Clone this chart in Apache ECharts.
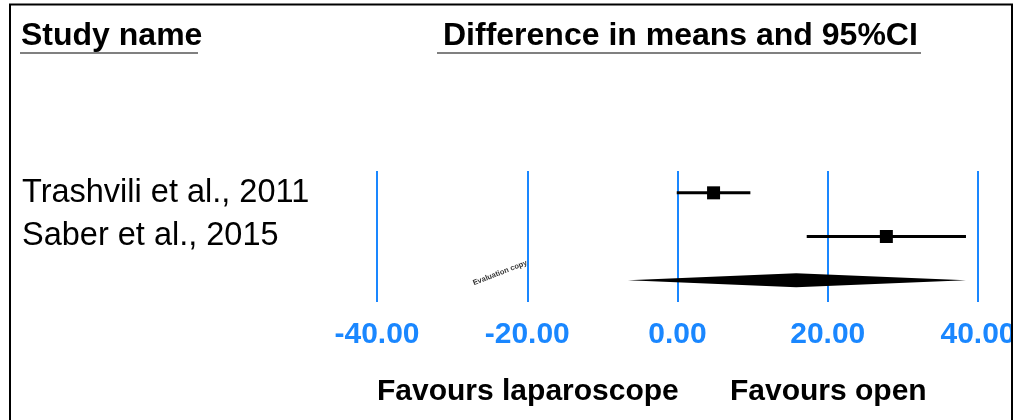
<!DOCTYPE html>
<html>
<head>
<meta charset="utf-8">
<script src="https://cdn.jsdelivr.net/npm/echarts@6/dist/echarts.min.js"></script>
<style>
html,body{margin:0;padding:0;background:#fff;}
#chart{width:1015px;height:420px;}
</style>
</head>
<body>
<div id="chart"></div>
<script>
// ---- data ----
const studies = ['Trashvili et al., 2011', 'Saber et al., 2015'];
const means = [4.8, 27.8];
const lowerCI = [-0.1, 17.2];
const upperCI = [9.7, 38.4];
const summaryCI = [-6.6, 15.8, 38.4]; // lower, point, upper
const xTicks = [-40, -20, 0, 20, 40];
const headerLeft = 'Study name';
const headerRight = 'Difference in means and 95%CI';
const favourLeft = 'Favours laparoscope';
const favourRight = 'Favours open';

const FONT = '"Liberation Sans", Arial, Helvetica, sans-serif';
const BLUE = '#1a87ff';

const rows = studies.concat(['']);
const studyData = studies.map((s, i) => [lowerCI[i], means[i], upperCI[i], i]);
const summaryData = [[summaryCI[0], summaryCI[1], summaryCI[2], studies.length]];

const chart = echarts.init(document.getElementById('chart'), null, {renderer: 'canvas'});

const option = {
  animation: false,
  backgroundColor: '#fff',
  grid: {left: 377, right: 37, top: 171, bottom: 118, outerBoundsMode: 'none', containLabel: false},
  xAxis: {
    type: 'value',
    min: xTicks[0],
    max: xTicks[xTicks.length - 1],
    interval: xTicks[1] - xTicks[0],
    axisLine: {show: false},
    axisTick: {show: false},
    splitLine: {show: true, lineStyle: {color: BLUE, width: 2}},
    axisLabel: {
      margin: 18,
      color: BLUE,
      fontFamily: FONT,
      fontWeight: 'bold',
      fontSize: 30,
      formatter: v => v.toFixed(2)
    }
  },
  yAxis: {
    type: 'category',
    inverse: true,
    data: rows,
    axisLine: {show: false},
    axisTick: {show: false},
    splitLine: {show: false},
    axisLabel: {
      align: 'left',
      margin: 355,
      color: '#000',
      fontFamily: FONT,
      fontSize: 32.5
    }
  },
  series: [
    {
      type: 'custom',
      data: studyData,
      encode: {x: [0, 1, 2], y: 3},
      renderItem: function (params, api) {
        const row = api.value(3);
        const lo = api.coord([api.value(0), row]);
        const mid = api.coord([api.value(1), row]);
        const hi = api.coord([api.value(2), row]);
        const s = 13;
        return {
          type: 'group',
          children: [
            {type: 'line', shape: {x1: lo[0], y1: lo[1], x2: hi[0], y2: hi[1]},
             style: {stroke: '#000', lineWidth: 3}},
            {type: 'rect', shape: {x: mid[0] - s / 2, y: mid[1] - s / 2, width: s, height: s},
             style: {fill: '#000'}}
          ]
        };
      },
      z: 5
    },
    {
      type: 'custom',
      data: summaryData,
      encode: {x: [0, 1, 2], y: 3},
      renderItem: function (params, api) {
        const row = api.value(3);
        const lo = api.coord([api.value(0), row]);
        const mid = api.coord([api.value(1), row]);
        const hi = api.coord([api.value(2), row]);
        const h = 7;
        return {
          type: 'polygon',
          shape: {points: [[lo[0], lo[1]], [mid[0], mid[1] - h], [hi[0], hi[1]], [mid[0], mid[1] + h]]},
          style: {fill: '#000'}
        };
      },
      z: 5
    }
  ],
  graphic: [
    {type: 'text', left: 21, top: 20, z: 10,
     style: {text: headerLeft, font: 'bold 32px ' + FONT, fill: '#000'}},
    {type: 'text', left: 443, top: 20, z: 10,
     style: {text: headerRight, font: 'bold 32px ' + FONT, fill: '#000'}},
    {type: 'line', z: 10, shape: {x1: 20, y1: 53, x2: 198, y2: 53},
     style: {stroke: '#808080', lineWidth: 2}},
    {type: 'line', z: 10, shape: {x1: 437, y1: 53, x2: 921, y2: 53},
     style: {stroke: '#808080', lineWidth: 2}},
    {type: 'text', left: 377, top: 377, z: 10,
     style: {text: favourLeft, font: 'bold 30px ' + FONT, fill: '#000'}},
    {type: 'text', left: 730, top: 377, z: 10,
     style: {text: favourRight, font: 'bold 30px ' + FONT, fill: '#000'}},
    {type: 'text', x: 500, y: 273, rotation: 0.37, z: 10,
     style: {text: 'Evaluation copy', font: 'bold 7.5px ' + FONT, fill: '#333', align: 'center', verticalAlign: 'middle'}},
    {type: 'rect', z: 20, shape: {x: 1013, y: 0, width: 10, height: 420}, style: {fill: '#fff'}},
    {type: 'rect', z: 21, shape: {x: 10, y: 4.5, width: 1002, height: 500},
     style: {fill: 'none', stroke: '#000', lineWidth: 2}}
  ]
};
chart.setOption(option);
</script>
</body>
</html>
